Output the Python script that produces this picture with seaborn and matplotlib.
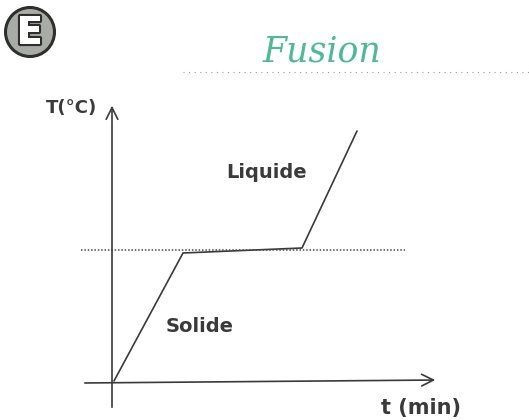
import matplotlib
matplotlib.use("Agg")
import matplotlib.pyplot as plt
import matplotlib.patheffects as pe
from matplotlib.patches import Circle
import seaborn as sns
import pandas as pd

# Heating curve of a pure substance: solid warms, melts at constant T, liquid warms
time_min = [0.2, 7.1, 19.0, 24.5]
temp_c = [0.2, 13.0, 13.5, 25.2]
melting_temp = 13.3
phase_labels = ["Solide", "Liquide"]
phase_label_pos = [(8.8, 5.6), (15.5, 21.0)]
title_text = "Fusion"
section_letter = "E"
x_label = "t (min)"
y_label = "T(°C)"

sns.set_theme(style="white")
plt.rcParams["font.family"] = ["DejaVu Sans"]

ink = "#3a3a3a"
fig = plt.figure(figsize=(5.29, 4.20), dpi=100)
ax = fig.add_axes([0, 0, 1, 1])
ax.set_xlim(-11.2, 41.7)
ax.set_ylim(-3.7, 38.3)
ax.axis("off")

df = pd.DataFrame({"t": time_min, "T": temp_c})
sns.lineplot(data=df, x="t", y="T", ax=ax, color=ink, linewidth=1.2,
             sort=False, estimator=None)

# melting temperature guide
ax.plot([-3.1, 29.3], [melting_temp, melting_temp], linestyle=(0, (1, 1.2)),
        color="#4a4a4a", linewidth=1.1)

# hand-drawn style axes with open arrowheads
arrow = dict(arrowstyle="->,head_length=0.7,head_width=0.35", color=ink, lw=1.2)
ax.annotate("", xy=(0, 28.0), xytext=(0, -2.7), arrowprops=arrow)
ax.annotate("", xy=(32.6, 0.3), xytext=(-3.0, 0.0), arrowprops=arrow)

ax.text(-1.5, 27.5, y_label, ha="right", va="center", fontsize=13,
        fontweight="bold", color=ink)
ax.text(30.9, -2.5, x_label, ha="center", va="center", fontsize=15,
        fontweight="bold", color=ink)

for lab, (x, y) in zip(phase_labels, phase_label_pos):
    ax.text(x, y, lab, ha="center", va="center", fontsize=14,
            fontweight="bold", color=ink)

# section badge and handwritten title
fig.patches.append(Circle((30, 420 - 32), 24.5, transform=None,
                          facecolor="#a9aca6", edgecolor="#2e2e2e", linewidth=2.2))
fig.text(30 / 529, 1 - 33 / 420, section_letter, ha="center", va="center",
         fontsize=28, fontweight="bold", color="white",
         path_effects=[pe.withStroke(linewidth=3, foreground="#2e2e2e")])
fig.text(322 / 529, 1 - 52 / 420, title_text, ha="center", va="center",
         fontsize=25, style="italic", family="DejaVu Serif", color="#4fb894")
fig.lines.append(plt.Line2D([183 / 529, 1.0], [1 - 72 / 420, 1 - 72 / 420],
                            transform=fig.transFigure, color="#9a9a9a",
                            linestyle=(0, (1, 4)), linewidth=0.8))

fig.savefig("out.png", dpi=100)
